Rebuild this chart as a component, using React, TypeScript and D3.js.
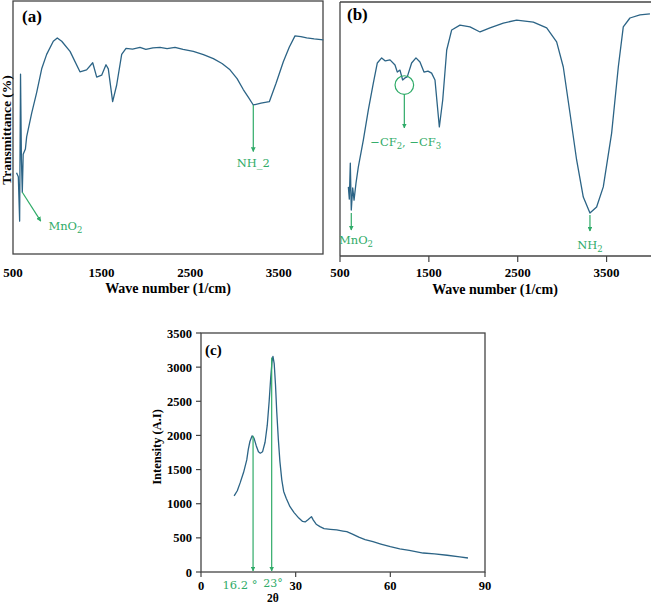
import React from "react";
import * as d3 from "d3";

// ---------- DATA ----------
const ftirTicks = [500, 1500, 2500, 3500];

const ftirA_wn = [540, 560, 575, 585, 595, 605, 615, 640, 654, 711, 767, 824, 880, 955, 1000, 1050, 1144, 1256, 1331, 1400, 1445, 1501, 1550, 1576, 1625, 1670, 1727, 1776, 1850, 1934, 2000, 2080, 2160, 2240, 2329, 2420, 2536, 2650, 2762, 2860, 2950, 3030, 3100, 3160, 3213, 3300, 3394, 3470, 3552, 3620, 3684, 3750, 3816, 3900, 4003];
const ftirA_t = [32.1, 30.5, 13.0, 71.1, 37.4, 24.4, 39.4, 41.5, 46.3, 55.7, 63.8, 73.2, 78.9, 84.1, 85.4, 84.1, 80.1, 72.0, 72.8, 75.6, 69.9, 70.7, 74.8, 73.2, 60.2, 66.7, 78.9, 81.3, 81.0, 81.7, 80.9, 81.5, 81.7, 81.2, 81.7, 80.9, 80.1, 78.8, 77.2, 75.3, 72.8, 69.3, 65.0, 61.8, 58.9, 59.6, 60.2, 67.5, 76.0, 81.8, 86.2, 85.9, 85.4, 85.0, 84.6];

const ftirB_wn = [594, 605, 616, 627, 643, 658, 680, 706, 763, 819, 875, 920, 969, 1010, 1063, 1119, 1145, 1175, 1205, 1231, 1257, 1306, 1355, 1400, 1445, 1490, 1531, 1569, 1618, 1656, 1701, 1757, 1850, 1963, 2076, 2188, 2338, 2488, 2676, 2826, 2938, 3013, 3088, 3163, 3238, 3313, 3388, 3463, 3557, 3632, 3688, 3763, 3876, 3988];
const ftirB_t = [27.2, 22.4, 36.6, 18.1, 26.8, 22.0, 28.7, 35.0, 45.7, 57.5, 68.1, 76.0, 78.0, 76.8, 77.2, 75.2, 72.4, 73.2, 69.3, 70.1, 70.5, 76.0, 78.0, 76.4, 72.4, 72.8, 72.0, 69.3, 50.8, 61.4, 81.1, 89.0, 90.9, 90.2, 88.2, 89.8, 91.7, 92.9, 92.1, 89.8, 84.3, 74.4, 56.3, 37.8, 23.2, 16.9, 19.3, 27.2, 48.4, 74.4, 90.2, 93.7, 94.9, 95.3];

const xrdTicksX = [0, 30, 60, 90];
const xrdTicksY = [0, 500, 1000, 1500, 2000, 2500, 3000, 3500];
const xrd_2t = [10.5, 11.5, 12.4, 13.5, 14.5, 15.0, 15.5, 16.2, 16.8, 17.5, 18.2, 18.8, 19.5, 20.3, 21.0, 21.6, 22.1, 22.5, 22.8, 23.2, 23.6, 24.0, 24.5, 25.0, 25.6, 26.2, 27.0, 28.2, 29.5, 31.0, 32.2, 33.0, 34.0, 35.0, 35.6, 36.5, 37.7, 39.0, 41.0, 43.0, 45.0, 46.2, 48.0, 50.0, 52.0, 54.5, 57.0, 60.0, 63.0, 66.0, 70.4, 74.0, 78.0, 82.0, 84.6];
const xrd_I = [1114, 1190, 1305, 1460, 1642, 1800, 1911, 1994, 1960, 1850, 1760, 1740, 1760, 1900, 2150, 2500, 2850, 3080, 3157, 3050, 2750, 2350, 1950, 1620, 1350, 1180, 1080, 957, 870, 790, 740, 733, 770, 811, 760, 700, 664, 635, 625, 616, 600, 591, 555, 510, 475, 444, 410, 371, 340, 318, 278, 265, 245, 222, 205];

// ---------- STYLE ----------
const LINE = "#2c6486";
const GREEN = "#2fab68";
const SERIF = "'Liberation Serif', 'Times New Roman', serif";
const ANN = "'DejaVu Serif', 'Liberation Serif', serif";

function Arrow({ x1, y1, x2, y2 }: { x1: number; y1: number; x2: number; y2: number }) {
  return <line x1={x1} y1={y1} x2={x2} y2={y2} stroke={GREEN} strokeWidth={1.2} markerEnd="url(#ah)" />;
}

function Sub({ base, sub, x, y, anchor = "start" }: any) {
  return (
    <text x={x} y={y} fill={GREEN} fontFamily={ANN} fontSize={11.5} textAnchor={anchor}>
      {base}
      <tspan fontSize={8.5} dy={3}>{sub}</tspan>
    </text>
  );
}

export default function App() {
  const ax = d3.scaleLinear().domain([500, 4000]).range([13, 323]);
  const ay = d3.scaleLinear().domain([0, 100]).range([254, 1]);
  const aLine = d3.line<number>().x((d, i) => ax(ftirA_wn[i])).y((d) => ay(d));
  const bx = d3.scaleLinear().domain([500, 4000]).range([340, 651]);
  const by = d3.scaleLinear().domain([0, 100]).range([256, 2]);
  const bLine = d3.line<number>().x((d, i) => bx(ftirB_wn[i])).y((d) => by(d));
  const cx = d3.scaleLinear().domain([0, 90]).range([201, 485]);
  const cy = d3.scaleLinear().domain([0, 3500]).range([572, 333]);
  const cLine = d3.line<number>().x((d, i) => cx(xrd_2t[i])).y((d) => cy(d));

  const tickFont = { fontFamily: SERIF, fontWeight: 700, fontSize: 13 } as const;

  return (
    <svg width={651} height={603} style={{ position: "absolute", left: 0, top: 0, background: "#fff" }}>
      <defs>
        <marker id="ah" viewBox="0 0 10 10" refX="9" refY="5" markerWidth="4" markerHeight="4" orient="auto-start-reverse">
          <path d="M0,0 L10,5 L0,10 z" fill={GREEN} />
        </marker>
      </defs>
      <rect width={651} height={603} fill="#fff" />

      {/* ---------- Panel (a) ---------- */}
      <rect x={13} y={1} width={310} height={253} fill="none" stroke="#444" strokeWidth={1.3} />
      <path d={aLine(ftirA_t) || ""} fill="none" stroke={LINE} strokeWidth={1.3} strokeLinejoin="round" />
      {ftirTicks.map((t) => (
        <text key={"at" + t} x={ax(t)} y={277} textAnchor="middle" {...tickFont}>{t}</text>
      ))}
      <text x={168} y={293} textAnchor="middle" fontFamily={SERIF} fontWeight={700} fontSize={14}>Wave number (1/cm)</text>
      <text transform={`translate(11,${130}) rotate(-90)`} textAnchor="middle" fontFamily={SERIF} fontWeight={700} fontSize={13.5}>Transmittance (%)</text>
      <text x={22} y={22} fontFamily={SERIF} fontWeight={700} fontSize={17}>(a)</text>
      <Arrow x1={ax(3213)} y1={ay(58.9)} x2={ax(3213)} y2={ay(40.5)} />
      <text x={ax(3213)} y={ay(34.5)} textAnchor="middle" fill={GREEN} fontFamily={ANN} fontSize={11.5}>NH_2</text>
      <Arrow x1={ax(605)} y1={ay(24.4)} x2={ax(813)} y2={ay(13)} />
      <Sub base="MnO" sub="2" x={ax(900)} y={ay(9.5)} />

      {/* ---------- Panel (b) ---------- */}
      <line x1={340} y1={2} x2={651} y2={2} stroke="#444" strokeWidth={1.3} />
      <line x1={340} y1={2} x2={340} y2={256} stroke="#444" strokeWidth={1.3} />
      <line x1={340} y1={256} x2={651} y2={256} stroke="#444" strokeWidth={1.3} />
      {ftirTicks.map((t) => (
        <g key={"bt" + t}>
          <line x1={bx(t)} x2={bx(t)} y1={256} y2={262} stroke="#444" strokeWidth={1.2} />
          <text x={bx(t)} y={277} textAnchor="middle" {...tickFont}>{t}</text>
        </g>
      ))}
      <text x={495} y={294} textAnchor="middle" fontFamily={SERIF} fontWeight={700} fontSize={14}>Wave number (1/cm)</text>
      <text x={347} y={20} fontFamily={SERIF} fontWeight={700} fontSize={17}>(b)</text>
      <path d={bLine(ftirB_t) || ""} fill="none" stroke={LINE} strokeWidth={1.3} strokeLinejoin="round" />
      <circle cx={bx(1224)} cy={by(67.3)} r={9.3} fill="none" stroke={GREEN} strokeWidth={1.2} />
      <Arrow x1={bx(1224)} y1={by(67.3) + 9.3} x2={bx(1224)} y2={by(50.4)} />
      <text x={bx(1240)} y={by(43.5)} textAnchor="middle" fill={GREEN} fontFamily={ANN} fontSize={11.5}>
        −CF<tspan fontSize={8.5} dy={3}>2</tspan><tspan dy={-3}>, −CF</tspan><tspan fontSize={8.5} dy={3}>3</tspan>
      </text>
      <Arrow x1={bx(627)} y1={by(16.9)} x2={bx(627)} y2={by(10.2)} />
      <Sub base="MnO" sub="2" x={bx(680)} y={244} anchor="middle" />
      <Arrow x1={bx(3313)} y1={by(16.1)} x2={bx(3313)} y2={by(9.8)} />
      <Sub base="NH" sub="2" x={bx(3313)} y={249} anchor="middle" />

      {/* ---------- Panel (c) ---------- */}
      <rect x={201} y={333} width={284} height={239} fill="none" stroke="#444" strokeWidth={1.3} />
      {xrdTicksY.map((t) => (
        <g key={"cy" + t}>
          <line x1={196} x2={201} y1={cy(t)} y2={cy(t)} stroke="#444" strokeWidth={1.2} />
          <text x={192} y={cy(t) + 4.5} textAnchor="end" fontFamily={SERIF} fontWeight={700} fontSize={12.5}>{t}</text>
        </g>
      ))}
      {xrdTicksX.map((t) => (
        <g key={"cx" + t}>
          <line x1={cx(t)} x2={cx(t)} y1={572} y2={577} stroke="#444" strokeWidth={1.2} />
          <text x={cx(t)} y={590} textAnchor="middle" fontFamily={SERIF} fontWeight={700} fontSize={12.5}>{t}</text>
        </g>
      ))}
      <text x={273} y={602} textAnchor="middle" fontFamily={SERIF} fontWeight={700} fontSize={11.5}>2θ</text>
      <text transform={`translate(161,447) rotate(-90)`} textAnchor="middle" fontFamily={SERIF} fontWeight={700} fontSize={12.5}>Intensity (A.I)</text>
      <text x={205} y={355} fontFamily={SERIF} fontWeight={700} fontSize={15}>(c)</text>
      <path d={cLine(xrd_I) || ""} fill="none" stroke={LINE} strokeWidth={1.3} strokeLinejoin="round" />
      <Arrow x1={cx(16.5)} y1={cy(1994)} x2={cx(16.5)} y2={571} />
      <Arrow x1={cx(22.4)} y1={cy(3140)} x2={cx(22.4)} y2={571} />
      <text x={240} y={589} textAnchor="middle" fill={GREEN} fontFamily={ANN} fontSize={11.5}>16.2 °</text>
      <text x={273} y={587} textAnchor="middle" fill={GREEN} fontFamily={ANN} fontSize={11}>23°</text>
    </svg>
  );
}
